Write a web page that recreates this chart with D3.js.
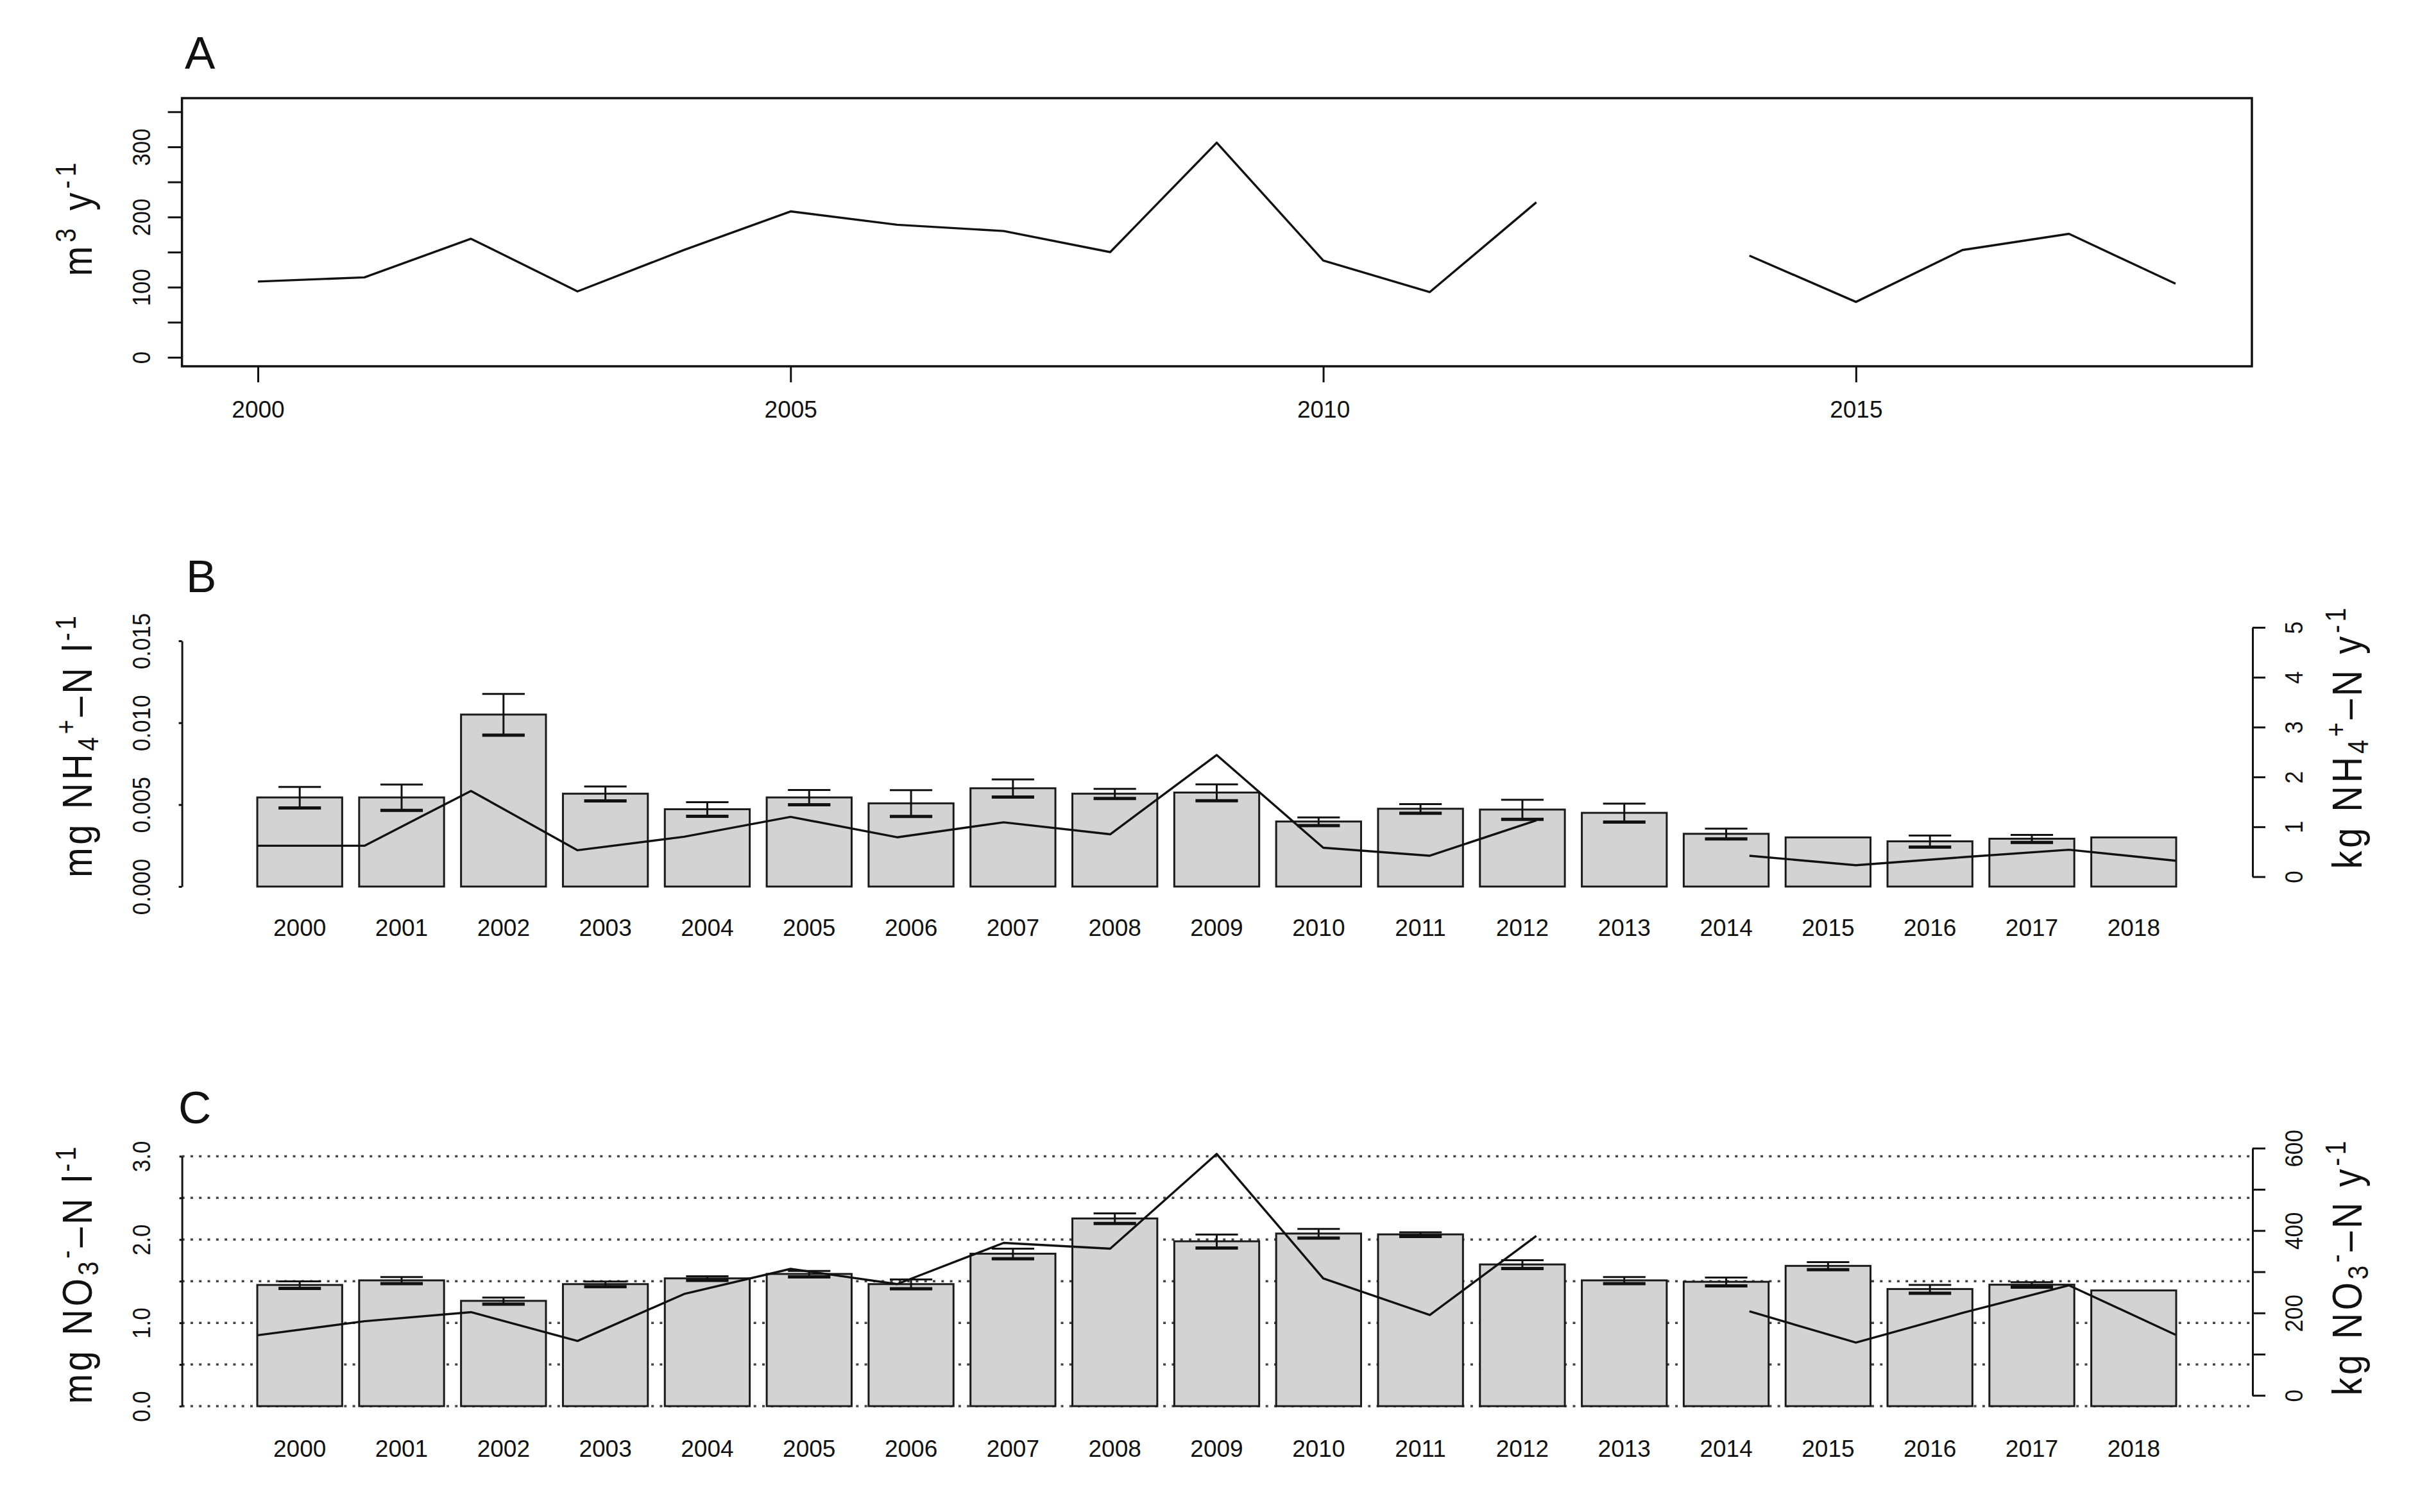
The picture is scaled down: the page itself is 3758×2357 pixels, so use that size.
<!DOCTYPE html>
<html><head><meta charset="utf-8">
<script src="https://cdnjs.cloudflare.com/ajax/libs/d3/7.8.5/d3.min.js"></script>
<style>body{margin:0;background:#fff}svg{display:block}</style>
</head><body>
<svg id="c" width="3758" height="2357"></svg>
<script>
// ---------------- DATA ----------------
const years = [2000,2001,2002,2003,2004,2005,2006,2007,2008,2009,2010,2011,2012,2013,2014,2015,2016,2017,2018];
const yearLabels = years.map(String);

// Panel A: annual water volume (m3 y-1)
const flow = [108,114,169,94,153,208,189,180,150,306,138,93,221,null,145,79,153,176,105];
const flowTicks = [0,50,100,150,200,250,300,350];
const flowTickLabels = ["0","","100","","200","","300",""];
const flowYearTicks = [2000,2005,2010,2015];

// Panel B: NH4+-N concentration (bars, mg/l), standard error, load (line, kg/y)
const nh4Conc = [0.00544,0.00544,0.01050,0.00567,0.00472,0.00544,0.00508,0.00600,0.00567,0.00574,0.00397,0.00475,0.00470,0.00450,0.00322,0.00300,0.00276,0.00292,0.00300];
const nh4Se   = [0.00064,0.00079,0.00126,0.00044,0.00043,0.00045,0.00080,0.00054,0.00029,0.00050,0.00025,0.00028,0.00060,0.00056,0.00031,null,0.00035,0.00023,null];
const nh4Load = [0.62,0.62,1.72,0.53,0.80,1.20,0.79,1.09,0.85,2.44,0.58,0.42,1.13,null,0.42,0.23,0.39,0.54,0.32];
const nh4ConcTicks = [0,0.005,0.010,0.015];
const nh4ConcTickLabels = ["0.000","0.005","0.010","0.015"];
const nh4LoadTicks = [0,1,2,3,4,5];
const nh4LoadTickLabels = ["0","1","2","3","4","5"];

// Panel C: NO3--N concentration (bars, mg/l), standard error, load (line, kg/y)
const no3Conc = [1.455,1.510,1.264,1.465,1.534,1.587,1.465,1.830,2.253,1.979,2.072,2.062,1.701,1.510,1.493,1.684,1.406,1.458,1.389];
const no3Se   = [0.042,0.040,0.040,0.030,0.025,0.035,0.055,0.060,0.060,0.080,0.055,0.025,0.050,0.040,0.050,0.045,0.050,0.030,null];
const no3Load = [146,180,202,132,246,307,270,370,356,586,284,195,387,null,204,128,200,267,147];
const no3ConcTicks = [0,0.5,1.0,1.5,2.0,2.5,3.0];
const no3ConcTickLabels = ["0.0","","1.0","","2.0","","3.0"];
const no3LoadTicks = [0,100,200,300,400,500,600];
const no3LoadTickLabels = ["0","","200","","400","","600"];

// Titles
const panelLetters = ["A","B","C"];
const titleA  = [["m",""],["3","sup"],[" y",""],["-1","sup"]];
const titleBL = [["mg NH",""],["4","sub"],["+","sup"],["–N l",""],["-1","sup"]];
const titleBR = [["kg NH",""],["4","sub"],["+","sup"],["–N y",""],["-1","sup"]];
const titleCL = [["mg NO",""],["3","sub"],["-","sup"],["–N l",""],["-1","sup"]];
const titleCR = [["kg NO",""],["3","sub"],["-","sup"],["–N y",""],["-1","sup"]];

// ---------------- DRAWING ----------------
const FONT = "'Liberation Sans', Arial, Helvetica, sans-serif";
const INK = "#111";
const svg = d3.select("#c");
svg.append("rect").attr("width",3758).attr("height",2357).attr("fill","#fff");

const PL = 283.6, PR = 3511;          // plot region left / right
const X0 = 401, X1 = 3392;            // extent of bars / years
const xBand = d3.scaleBand().domain(years).range([X0, X1]).paddingInner(1/6).paddingOuter(0);
const xLin  = d3.scaleLinear().domain([2000, 2018]).range([X0 + 1, X1 - 1]);

function styleAxis(g) {
  g.selectAll("path.domain").attr("stroke", INK).attr("stroke-width", 3);
  g.selectAll(".tick line").attr("stroke", INK).attr("stroke-width", 3);
  g.selectAll("text").attr("fill", INK).attr("font-family", FONT);
}
function rotateTickText(g, offset) {
  g.selectAll(".tick text")
    .attr("x", 0).attr("y", 0).attr("dy", "0.36em")
    .attr("text-anchor", "middle").attr("font-size", 35)
    .attr("transform", `translate(${offset},0) rotate(-90) scale(1,1.12)`);
}
function rotTitle(x, cy, pieces, len) {
  const t = svg.append("text")
    .attr("transform", `translate(${x},${cy}) rotate(-90) scale(1,1.15)`)
    .attr("text-anchor", "middle").attr("font-family", FONT)
    .attr("font-size", 56).attr("fill", INK)
    .attr("textLength", len).attr("lengthAdjust", "spacing")
    .style("white-space", "pre");
  let cur = 0;
  pieces.forEach(([s, type]) => {
    const off = type === "sup" ? -22 : type === "sub" ? 9 : 0;
    const ts = t.append("tspan").text(s).attr("dy", off - cur);
    if (type) ts.attr("font-size", 39);
    cur = off;
  });
}
function panelLetter(txt, x, y) {
  svg.append("text").attr("x", x).attr("y", y).text(txt)
    .attr("font-family", FONT).attr("font-size", 71).attr("fill", INK);
}
function yearAxis(y0, offset) {
  const g = svg.append("g").attr("transform", `translate(0,${y0})`)
    .call(d3.axisBottom(xBand).tickSize(0).tickFormat((d, i) => yearLabels[i]));
  g.select(".domain").remove();
  styleAxis(g);
  g.selectAll(".tick text").attr("y", offset).attr("dy", null).attr("font-size", 37);
}
function drawBars(vals, se, y) {
  const data = years.map((yr, i) => ({yr, v: vals[i], e: se[i]}));
  const g = svg.append("g");
  g.selectAll("rect").data(data).join("rect")
    .attr("x", d => xBand(d.yr)).attr("width", xBand.bandwidth())
    .attr("y", d => y(d.v)).attr("height", d => y(0) - y(d.v))
    .attr("fill", "#d3d3d3").attr("stroke", "#1a1a1a").attr("stroke-width", 3);
  const eb = g.selectAll("g.eb").data(data.filter(d => d.e != null)).join("g").attr("class", "eb");
  const cx = d => xBand(d.yr) + xBand.bandwidth() / 2;
  const hw = xBand.bandwidth() / 4;
  eb.append("line").attr("x1", cx).attr("x2", cx)
    .attr("y1", d => y(d.v + d.e)).attr("y2", d => y(d.v - d.e))
    .attr("stroke", INK).attr("stroke-width", 3);
  eb.append("line").attr("x1", d => cx(d) - hw).attr("x2", d => cx(d) + hw)
    .attr("y1", d => y(d.v + d.e)).attr("y2", d => y(d.v + d.e))
    .attr("stroke", INK).attr("stroke-width", 3);
  eb.append("line").attr("x1", d => cx(d) - hw).attr("x2", d => cx(d) + hw)
    .attr("y1", d => y(d.v - d.e)).attr("y2", d => y(d.v - d.e))
    .attr("stroke", INK).attr("stroke-width", 5);
}
function drawLine(vals, y) {
  const data = years.map((yr, i) => ({yr, v: vals[i]}));
  svg.append("path").datum(data)
    .attr("d", d3.line().defined(d => d.v != null).x(d => xLin(d.yr)).y(d => y(d.v)))
    .attr("fill", "none").attr("stroke", INK).attr("stroke-width", 3.4)
    .attr("stroke-linejoin", "round");
}

// ---------- Panel A ----------
const yA = d3.scaleLinear().domain([0, 350]).range([557, 557 - 350 * 1.0935]);
panelLetter(panelLetters[0], 288, 107);
svg.append("rect").attr("x", PL).attr("y", 153).attr("width", 3510 - PL).attr("height", 571 - 153)
  .attr("fill", "none").attr("stroke", INK).attr("stroke-width", 3.5);
drawLine(flow, yA);
{
  const g = svg.append("g").attr("transform", `translate(${PL},0)`)
    .call(d3.axisLeft(yA).tickValues(flowTicks).tickSize(22).tickSizeOuter(0)
      .tickFormat((d, i) => flowTickLabels[i]));
  g.select(".domain").remove();
  styleAxis(g); rotateTickText(g, -63.6);
  const gx = svg.append("g").attr("transform", "translate(0,571)")
    .call(d3.axisBottom(xLin).tickValues(flowYearTicks).tickSize(25).tickSizeOuter(0).tickFormat(d3.format("d")));
  gx.select(".domain").remove();
  styleAxis(gx);
  gx.selectAll(".tick text").attr("y", 80).attr("dy", null).attr("font-size", 37);
}
rotTitle(143, 342, titleA, 177);

// ---------- Panel B ----------
const yBL = d3.scaleLinear().domain([0, 0.015]).range([1382, 999]);
const yBR = d3.scaleLinear().domain([0, 5]).range([1366.6, 978]);
panelLetter(panelLetters[1], 290, 923);
drawBars(nh4Conc, nh4Se, yBL);
drawLine(nh4Load, yBR);
{
  const g = svg.append("g").attr("transform", `translate(${PL},0)`)
    .call(d3.axisLeft(yBL).tickValues(nh4ConcTicks).tickSize(5).tickSizeOuter(0)
      .tickFormat((d, i) => nh4ConcTickLabels[i]));
  styleAxis(g); rotateTickText(g, -63.6);
  const gr = svg.append("g").attr("transform", `translate(${PR},0)`)
    .call(d3.axisRight(yBR).tickValues(nh4LoadTicks).tickSize(20).tickSizeOuter(0)
      .tickFormat((d, i) => nh4LoadTickLabels[i]));
  styleAxis(gr); rotateTickText(gr, 63.5);
}
yearAxis(1382, 77);
rotTitle(143, 1164, titleBL, 408);
rotTitle(3681, 1151, titleBR, 407);

// ---------- Panel C ----------
const yCL = d3.scaleLinear().domain([0, 3]).range([2192, 1802.4]);
const yCR = d3.scaleLinear().domain([0, 600]).range([2175.2, 1789.8]);
panelLetter(panelLetters[2], 278, 1751);
svg.append("g").selectAll("line").data(no3ConcTicks).join("line")
  .attr("x1", PL).attr("x2", PR).attr("y1", d => yCL(d)).attr("y2", d => yCL(d))
  .attr("stroke", "#444").attr("stroke-width", 3.5).attr("stroke-dasharray", "4,9.3");
drawBars(no3Conc, no3Se, yCL);
drawLine(no3Load, yCR);
{
  const g = svg.append("g").attr("transform", `translate(${PL},0)`)
    .call(d3.axisLeft(yCL).tickValues(no3ConcTicks).tickSize(4).tickSizeOuter(0)
      .tickFormat((d, i) => no3ConcTickLabels[i]));
  styleAxis(g); rotateTickText(g, -63.6);
  const gr = svg.append("g").attr("transform", `translate(${PR},0)`)
    .call(d3.axisRight(yCR).tickValues(no3LoadTicks).tickSize(20).tickSizeOuter(0)
      .tickFormat((d, i) => no3LoadTickLabels[i]));
  styleAxis(gr); rotateTickText(gr, 63.5);
}
yearAxis(2192, 79);
rotTitle(143, 1988, titleCL, 401);
rotTitle(3681, 1977, titleCR, 397);
</script>
</body></html>
